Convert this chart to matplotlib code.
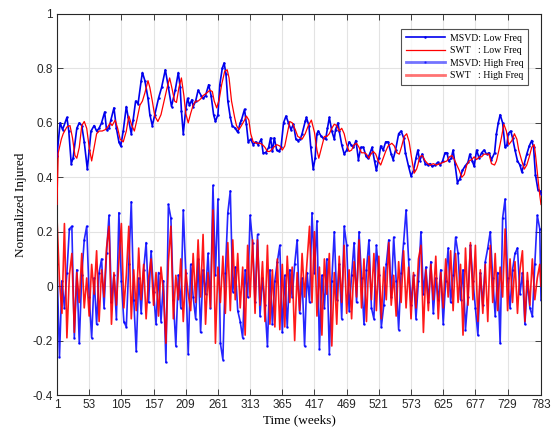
import numpy as np
import matplotlib
matplotlib.use("Agg")
import matplotlib.pyplot as plt

# ---------------- data ----------------
msvd_low_weeks = [1, 6, 10, 17, 20, 24, 27, 33, 37, 41, 45, 50, 53, 56, 61, 65, 69, 73, 78, 81, 85, 88, 93, 97,
                  101, 104, 108, 113, 116, 121, 124, 128, 132, 137, 139, 143, 148, 151, 155, 159, 165, 170, 176,
                  181, 186, 192, 197, 200, 202, 205, 209, 212, 215, 219, 221, 225, 229, 234, 237, 241, 246, 250,
                  254, 257, 261, 264, 268, 271, 274, 277, 281, 284, 289, 293, 297, 299, 304, 307, 310, 314, 318,
                  322, 326, 331, 334, 338, 343, 346, 349, 352, 356, 360, 363, 367, 371, 375, 379, 383, 387, 390,
                  394, 397, 402, 404, 408, 411, 415, 418, 421, 423, 428, 431, 435, 438, 441, 445, 449, 451, 455,
                  457, 461, 465, 469, 473, 476, 480, 484, 488, 492, 496, 500, 503, 507, 510, 514, 517, 521, 524,
                  528, 532, 536, 541, 544, 548, 553, 557, 561, 564, 569, 573, 577, 581, 584, 587, 591, 596, 600,
                  604, 607, 612, 616, 620, 624, 628, 631, 634, 638, 641, 644, 648, 652, 656, 660, 665, 668, 672,
                  675, 679, 683, 687, 691, 695, 699, 703, 708, 711, 714, 717, 721, 725, 728, 730, 734, 737, 741,
                  745, 749, 752, 756, 760, 764, 768, 771, 774, 778, 781, 783]
msvd_low = [0.48, 0.60, 0.575, 0.62, 0.57, 0.45, 0.47, 0.58, 0.60, 0.59, 0.53, 0.43, 0.50, 0.57, 0.59, 0.57,
            0.58, 0.60, 0.64, 0.575, 0.58, 0.61, 0.655, 0.58, 0.53, 0.515, 0.57, 0.66, 0.62, 0.56, 0.61, 0.68,
            0.67, 0.755, 0.785, 0.755, 0.69, 0.63, 0.59, 0.63, 0.69, 0.73, 0.795, 0.73, 0.66, 0.72, 0.785, 0.73,
            0.645, 0.56, 0.65, 0.69, 0.665, 0.685, 0.66, 0.68, 0.72, 0.70, 0.69, 0.70, 0.74, 0.70, 0.63, 0.605,
            0.63, 0.74, 0.80, 0.82, 0.78, 0.68, 0.62, 0.59, 0.58, 0.565, 0.60, 0.61, 0.65, 0.595, 0.53, 0.54,
            0.52, 0.53, 0.52, 0.54, 0.49, 0.49, 0.51, 0.545, 0.495, 0.545, 0.50, 0.495, 0.51, 0.60, 0.625, 0.60,
            0.575, 0.595, 0.54, 0.535, 0.54, 0.56, 0.605, 0.62, 0.59, 0.51, 0.43, 0.47, 0.56, 0.57, 0.55, 0.545,
            0.54, 0.58, 0.62, 0.57, 0.54, 0.575, 0.60, 0.57, 0.52, 0.485, 0.50, 0.53, 0.52, 0.51, 0.535, 0.465,
            0.51, 0.51, 0.48, 0.47, 0.49, 0.51, 0.46, 0.425, 0.47, 0.515, 0.50, 0.53, 0.53, 0.485, 0.465, 0.50,
            0.56, 0.57, 0.545, 0.49, 0.44, 0.405, 0.425, 0.47, 0.50, 0.46, 0.485, 0.45, 0.445, 0.45, 0.44, 0.445,
            0.455, 0.445, 0.46, 0.49, 0.49, 0.46, 0.47, 0.50, 0.45, 0.38, 0.395, 0.425, 0.44, 0.455, 0.485, 0.46,
            0.44, 0.50, 0.47, 0.49, 0.50, 0.485, 0.49, 0.465, 0.49, 0.56, 0.60, 0.63, 0.60, 0.51, 0.52, 0.56,
            0.57, 0.545, 0.50, 0.46, 0.445, 0.42, 0.45, 0.485, 0.515, 0.535, 0.51, 0.41, 0.355, 0.35, 0.34]

swt_low_weeks = [1, 3, 8, 11, 17, 22, 26, 30, 33, 37, 41, 45, 49, 53, 57, 61, 65, 69, 74, 79, 83, 87, 90, 95,
                 99, 103, 108, 113, 117, 122, 126, 130, 135, 139, 143, 148, 151, 155, 159, 164, 169, 174, 179,
                 183, 186, 191, 194, 198, 202, 206, 209, 213, 217, 221, 225, 229, 234, 237, 243, 248, 252, 255,
                 259, 263, 267, 272, 276, 279, 283, 288, 291, 295, 299, 304, 307, 311, 314, 318, 324, 329, 333,
                 337, 341, 345, 351, 356, 361, 365, 369, 374, 377, 381, 386, 390, 394, 397, 402, 407, 412, 417,
                 421, 424, 429, 433, 437, 441, 445, 449, 453, 457, 461, 465, 469, 473, 477, 481, 485, 489, 493,
                 498, 501, 505, 508, 512, 516, 520, 524, 528, 532, 536, 542, 546, 550, 554, 558, 562, 566, 570,
                 574, 578, 582, 584, 587, 591, 596, 600, 604, 609, 614, 620, 625, 631, 635, 639, 643, 647, 651,
                 655, 659, 663, 667, 671, 675, 679, 683, 687, 691, 695, 699, 703, 708, 711, 715, 719, 723, 727,
                 731, 736, 740, 744, 747, 752, 756, 760, 764, 768, 772, 774, 776, 779, 781, 783]
swt_low = [0.30, 0.49, 0.54, 0.56, 0.585, 0.59, 0.545, 0.48, 0.47, 0.51, 0.59, 0.605, 0.58, 0.51, 0.46, 0.51,
           0.56, 0.57, 0.57, 0.575, 0.585, 0.60, 0.59, 0.61, 0.58, 0.54, 0.53, 0.57, 0.625, 0.59, 0.57, 0.61,
           0.665, 0.68, 0.71, 0.755, 0.73, 0.68, 0.625, 0.605, 0.63, 0.68, 0.73, 0.765, 0.735, 0.68, 0.675, 0.73,
           0.765, 0.70, 0.635, 0.60, 0.635, 0.665, 0.68, 0.68, 0.69, 0.70, 0.71, 0.72, 0.715, 0.68, 0.655, 0.685,
           0.74, 0.79, 0.795, 0.765, 0.68, 0.62, 0.59, 0.575, 0.59, 0.61, 0.625, 0.61, 0.56, 0.53, 0.525, 0.525,
           0.52, 0.51, 0.495, 0.495, 0.51, 0.52, 0.515, 0.50, 0.515, 0.57, 0.605, 0.60, 0.575, 0.55, 0.545, 0.54,
           0.56, 0.59, 0.61, 0.565, 0.50, 0.47, 0.515, 0.55, 0.55, 0.56, 0.58, 0.595, 0.59, 0.57, 0.58, 0.56,
           0.52, 0.495, 0.50, 0.52, 0.525, 0.51, 0.49, 0.49, 0.485, 0.47, 0.485, 0.495, 0.485, 0.46, 0.445, 0.47,
           0.495, 0.515, 0.525, 0.515, 0.49, 0.485, 0.515, 0.55, 0.56, 0.53, 0.47, 0.415, 0.43, 0.445, 0.475,
           0.48, 0.46, 0.45, 0.445, 0.45, 0.445, 0.45, 0.455, 0.46, 0.475, 0.48, 0.465, 0.445, 0.425, 0.40, 0.41,
           0.445, 0.46, 0.465, 0.475, 0.465, 0.475, 0.475, 0.485, 0.485, 0.485, 0.45, 0.445, 0.46, 0.50, 0.545,
           0.595, 0.57, 0.52, 0.535, 0.56, 0.54, 0.50, 0.46, 0.43, 0.445, 0.475, 0.51, 0.52, 0.485, 0.44, 0.375,
           0.335, 0.30]

high_weeks = list(range(1, 782, 4)) + [783]
msvd_high = [0.08, -0.26, 0.02, -0.08, 0.05, 0.21, 0.22, -0.19, 0.06, -0.21, 0.04, 0.17, 0.22, -0.04, -0.19, 0.03,
             -0.14, 0.05, 0.10, -0.08, 0.12, 0.26, -0.06, 0.04, -0.12, 0.27, 0.02, -0.13, -0.15, 0.08, 0.31, -0.05,
             -0.24, 0.03, -0.10, 0.06, 0.16, -0.06, 0.13, -0.02, -0.14, 0.05, -0.13, 0.02, -0.28, 0.30, 0.25, -0.05,
             -0.22, 0.04, -0.08, 0.28, 0.05, -0.25, 0.08, -0.04, -0.12, 0.10, -0.17, 0.06, -0.03, 0.12, -0.08, 0.37,
             0.04, 0.32, -0.21, -0.27, 0.05, 0.27, 0.35, -0.02, 0.07, -0.09, -0.13, -0.19, 0.06, -0.04, 0.26, 0.16,
             -0.06, 0.19, -0.11, 0.03, -0.07, -0.22, 0.06, -0.14, 0.02, 0.09, 0.15, -0.17, 0.04, -0.15, 0.06, -0.04,
             0.08, 0.17, -0.10, 0.03, -0.22, 0.05, -0.06, 0.27, 0.05, 0.24, -0.23, 0.04, -0.08, 0.10, -0.25, 0.02,
             0.20, -0.05, 0.08, -0.12, 0.22, 0.15, -0.09, 0.04, 0.16, -0.06, 0.20, 0.03, -0.14, 0.06, 0.17, -0.08,
             -0.12, 0.15, 0.04, -0.15, -0.07, 0.08, 0.17, -0.04, 0.18, 0.02, -0.16, 0.05, 0.16, 0.28, 0.10, -0.07,
             0.04, -0.12, 0.02, 0.20, -0.03, 0.07, -0.06, 0.09, -0.10, 0.03, -0.05, 0.06, -0.14, 0.02, 0.14, -0.06,
             0.04, 0.18, 0.12, -0.05, 0.06, -0.16, -0.04, 0.15, 0.02, -0.08, -0.18, 0.05, -0.07, 0.09, 0.14, 0.20,
             0.03, -0.11, 0.05, -0.21, 0.25, 0.32, 0.03, -0.08, 0.06, 0.12, 0.14, -0.03, 0.05, -0.14, 0.02, -0.08,
             -0.11, 0.08, 0.26, 0.21, -0.05]
swt_high = [0.25, 0.02, -0.10, 0.23, -0.19, 0.04, 0.12, -0.17, 0.05, -0.06, 0.12, -0.08, 0.03, -0.11, 0.08, -0.03,
            0.13, -0.13, 0.06, -0.04, 0.14, 0.22, -0.14, 0.05, -0.07, 0.09, 0.23, -0.08, 0.04, 0.22, -0.12, 0.06,
            -0.09, 0.14, -0.05, 0.08, -0.12, 0.03, 0.10, -0.07, 0.05, -0.11, 0.07, -0.02, -0.21, 0.09, 0.22, -0.12,
            0.04, -0.05, 0.10, -0.13, 0.06, -0.03, -0.09, 0.12, -0.06, 0.17, -0.04, 0.19, -0.14, 0.05, -0.08, 0.28,
            -0.21, 0.07, -0.06, 0.11, -0.10, 0.16, -0.09, 0.17, -0.05, 0.12, -0.08, 0.07, -0.18, 0.15, -0.04, 0.17,
            -0.10, 0.17, -0.07, 0.09, -0.13, 0.15, -0.14, 0.06, -0.15, 0.10, -0.16, 0.08, -0.15, 0.11, -0.06, 0.07,
            -0.20, 0.05, -0.09, 0.12, -0.04, 0.09, 0.22, -0.06, 0.20, -0.11, 0.07, -0.18, 0.10, -0.03, 0.12, -0.22,
            0.05, -0.14, 0.11, -0.06, 0.15, -0.10, 0.06, -0.12, 0.09, -0.04, 0.17, -0.08, 0.10, -0.13, 0.11, -0.05,
            0.12, -0.09, 0.11, -0.12, 0.07, -0.05, 0.16, -0.07, 0.04, -0.11, 0.09, -0.06, 0.13, -0.08, 0.07, -0.12,
            0.05, -0.08, 0.10, 0.15, -0.17, 0.06, -0.09, 0.08, -0.05, 0.11, -0.12, 0.05, -0.08, 0.10, -0.04, 0.13,
            -0.09, 0.12, -0.06, 0.08, -0.18, 0.14, -0.07, 0.16, -0.05, 0.15, -0.13, 0.06, -0.10, 0.08, -0.13, 0.15,
            -0.06, 0.12, -0.09, 0.07, -0.04, 0.21, -0.09, 0.10, -0.06, 0.09, -0.10, 0.06, 0.13, -0.13, 0.05, -0.07,
            0.10, -0.05, 0.03, 0.08, 0.0]

xticks = [1, 53, 105, 157, 209, 261, 313, 365, 417, 469, 521, 573, 625, 677, 729, 783]
yticks = [-0.4, -0.2, 0, 0.2, 0.4, 0.6, 0.8, 1]
labels = ["MSVD: Low Freq", "SWT   : Low Freq", "MSVD: High Freq", "SWT   : High Freq"]

# ---------------- plot ----------------
fig = plt.figure(figsize=(5.56, 4.37), dpi=100)
ax = fig.add_axes([57 / 556, 1 - 395 / 437, 484 / 556, 381 / 437])

ax.plot(msvd_low_weeks, msvd_low, color="#0000ee", lw=1.2, marker=".", ms=1.6, label=labels[0], zorder=3)
ax.plot(swt_low_weeks, swt_low, color="#ff0000", lw=0.9, label=labels[1], zorder=3)
ax.plot(high_weeks, msvd_high, color="#0000ff", lw=1.2, alpha=0.85, marker=".", ms=1.6, label=labels[2], zorder=2)
ax.plot(high_weeks, swt_high, color="#ff0000", lw=1.2, alpha=0.9, label=labels[3], zorder=2)

ax.set_xlim(1, 783)
ax.set_ylim(-0.4, 1)
ax.set_xticks(xticks)
ax.set_yticks(yticks)
ax.set_yticklabels(["-0.4", "-0.2", "0", "0.2", "0.4", "0.6", "0.8", "1"])
ax.grid(True, color="#e3e3e3", lw=0.8)
ax.set_axisbelow(True)
ax.tick_params(direction="in", top=True, right=True, length=4, width=0.6, colors="#262626",
               labelsize=8.5, pad=3)
for lab in ax.get_xticklabels() + ax.get_yticklabels():
    lab.set_family("Liberation Sans")
for sp in ax.spines.values():
    sp.set_color("#262626")
    sp.set_linewidth(0.8)

ax.set_xlabel("Time (weeks)", family="Liberation Serif", fontsize=9.5, labelpad=2)
ax.set_ylabel("Normalized Injured", family="Liberation Serif", fontsize=9.5, labelpad=4)

leg = ax.legend(loc="upper right", bbox_to_anchor=(1 - 13 / 484, 1 - 15 / 381), borderaxespad=0,
                prop={"family": "Liberation Serif", "size": 7}, frameon=True, fancybox=False,
                edgecolor="#262626", handlelength=4.0, labelspacing=0.35, borderpad=0.5, handletextpad=0.5)
leg.get_frame().set_linewidth(0.8)
leg.get_lines()[2].set_linewidth(2.0)
leg.get_lines()[2].set_alpha(0.55)
leg.get_lines()[3].set_linewidth(2.0)
leg.get_lines()[3].set_alpha(0.55)

fig.savefig("out.png", dpi=100)
